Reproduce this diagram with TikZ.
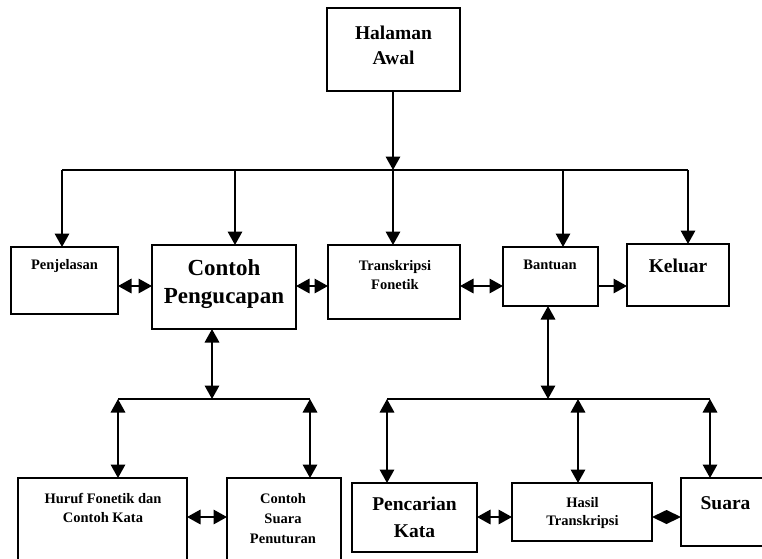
\documentclass[tikz,border=0pt]{standalone}
\usepackage{fontspec}
\setmainfont{Liberation Serif}
\usetikzlibrary{arrows.meta,calc}
\begin{document}
\begin{tikzpicture}[x=1pt,y=-1pt,
  box/.style={draw, line width=2pt, inner sep=0pt, outer sep=0pt, rectangle},
  ln/.style={line width=1.7pt},
  arr/.style={ln, -{Triangle[length=13.5pt,width=14.5pt]}},
  dbl/.style={ln, {Triangle[length=13.5pt,width=14.5pt]}-{Triangle[length=13.5pt,width=14.5pt]}},
  txt/.style={anchor=north, inner sep=0pt, outer sep=0pt, align=center},
  sm/.style={txt, font=\bfseries\fontsize{14.5}{19.5}\selectfont},
  lg/.style={txt, font=\bfseries\fontsize{19.5}{25}\selectfont}]
\useasboundingbox (0,0) rectangle (762,558);

% boxes
\node[box, minimum width=133pt, minimum height=83pt] (ha)  at (393,49.5) {};
\node[box, minimum width=107pt, minimum height=67pt] (pen) at (64.5,280.5) {};
\node[box, minimum width=144pt, minimum height=84pt] (cp)  at (224,287) {};
\node[box, minimum width=132pt, minimum height=74pt] (tf)  at (394,282) {};
\node[box, minimum width=95pt,  minimum height=59pt] (ban) at (550.5,276.5) {};
\node[box, minimum width=102pt, minimum height=62pt] (kel) at (678,275) {};
\node[box, minimum width=169pt, minimum height=92pt] (hf)  at (102.5,524) {};
\node[box, minimum width=114pt, minimum height=92pt] (csp) at (284,524) {};
\node[box, minimum width=125pt, minimum height=69pt] (pk)  at (414.5,517.5) {};
\node[box, minimum width=140pt, minimum height=58pt] (ht)  at (582,512) {};
\node[box, minimum width=89pt,  minimum height=68pt] (su)  at (725.5,512) {};

% texts
\node[lg] (tha) at (393.5,26) {Halaman\\Awal};
\node[sm] (tpen) at (64.5,259) {Penjelasan};
\node[txt, font=\bfseries\fontsize{23}{28}\selectfont] (tcp) at (224,260) {Contoh\\Pengucapan};
\node[sm, font=\bfseries\fontsize{14.5}{19}\selectfont] (ttf) at (395,260) {Transkripsi\\Fonetik};
\node[sm] (tban) at (550,260) {Bantuan};
\node[lg] (tkel) at (678,259) {Keluar};
\node[sm] (thf) at (103,493) {Huruf Fonetik dan\\Contoh Kata};
\node[sm, font=\bfseries\fontsize{14.5}{20}\selectfont] (tcsp) at (283,493) {Contoh\\Suara\\Penuturan};
\node[lg, font=\bfseries\fontsize{19.5}{27}\selectfont] (tpk) at (414.5,497) {Pencarian\\Kata};
\node[sm, font=\bfseries\fontsize{14.5}{18}\selectfont] (tht) at (582.5,497) {Hasil\\Transkripsi};
\node[lg] (tsu) at (725.5,497) {Suara};

% top bus
\coordinate (b1) at (393,170);
\coordinate (b1L) at (62,170);
\coordinate (b1R) at (688,170);
\draw[arr] (ha.south) -- (b1);
\draw[ln] (b1L) -- (b1R);
\coordinate (d2) at (235,170);
\coordinate (d4) at (563,170);
\draw[arr] (b1L) -- (b1L |- pen.north);
\draw[arr] (d2) -- (d2 |- cp.north);
\draw[arr] (b1) -- (b1 |- tf.north);
\draw[arr] (d4) -- (d4 |- ban.north);
\draw[arr] (b1R) -- (b1R |- kel.north);

% middle row connectors
\coordinate (r1) at (0,286);
\draw[dbl] (pen.east |- r1) -- (cp.west |- r1);
\draw[dbl] (cp.east |- r1) -- (tf.west |- r1);
\draw[dbl] (tf.east |- r1) -- (ban.west |- r1);
\draw[arr] (ban.east |- r1) -- (kel.west |- r1);

% lower left
\coordinate (b2) at (212,399);
\coordinate (b2L) at (118,399);
\coordinate (b2R) at (310,399);
\draw[dbl] (b2 |- cp.south) -- (b2);
\draw[ln] (b2L) -- (b2R);
\draw[dbl] (b2L) -- (b2L |- hf.north);
\draw[dbl] (b2R) -- (b2R |- csp.north);

% lower right
\coordinate (b3) at (548,399);
\coordinate (b3L) at (387,399);
\coordinate (b3M) at (578,399);
\coordinate (b3R) at (710,399);
\draw[dbl] (b3 |- ban.south) -- (b3);
\draw[ln] (b3L) -- (b3R);
\draw[dbl] (b3L) -- (b3L |- pk.north);
\draw[dbl] (b3M) -- (b3M |- ht.north);
\draw[dbl] (b3R) -- (b3R |- su.north);

% bottom row connectors
\coordinate (r2) at (0,517);
\draw[dbl] (hf.east |- r2) -- (csp.west |- r2);
\draw[dbl] (pk.east |- r2) -- (ht.west |- r2);
\coordinate (hsm) at ($(ht.east |- r2)!0.5!(su.west |- r2)$);
\fill (ht.east |- r2) -- ([yshift=7pt]hsm) -- (su.west |- r2) -- ([yshift=-7pt]hsm) -- cycle;
\end{tikzpicture}
\end{document}
